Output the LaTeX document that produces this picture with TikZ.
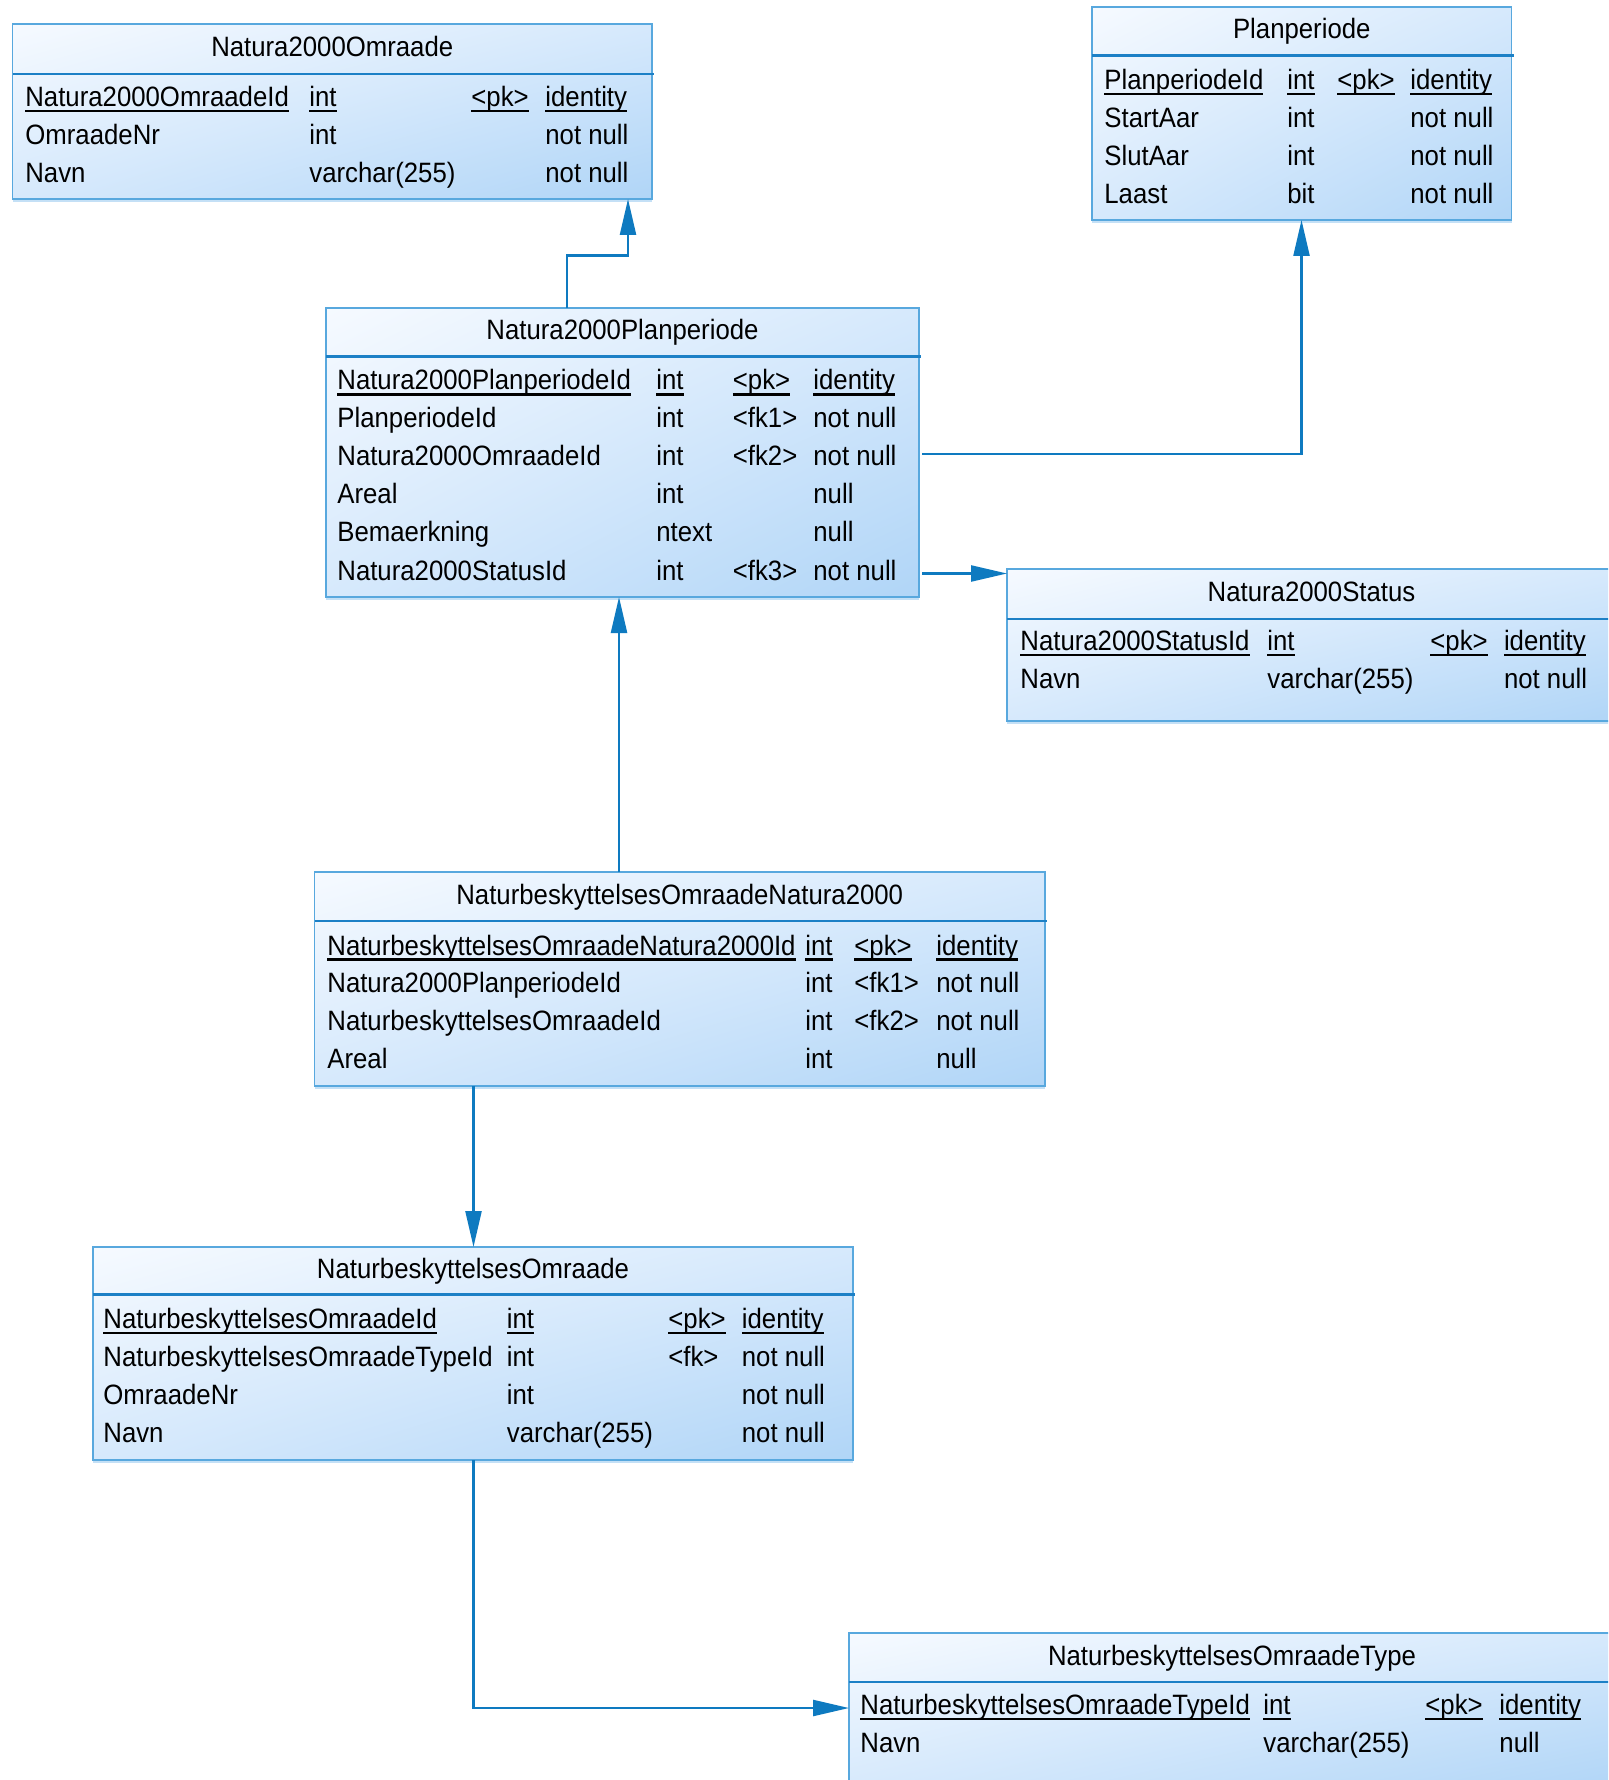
\documentclass[tikz,border=0pt]{standalone}
\usepackage{fontspec}
\setmainfont[FakeStretch=0.92]{Liberation Sans}
\usetikzlibrary{arrows.meta,shadings}
\definecolor{linec}{RGB}{14,122,192}
\definecolor{borderc}{RGB}{88,168,222}
\definecolor{sepc}{RGB}{28,128,198}
\definecolor{fillA}{RGB}{246,250,255}
\definecolor{fillB}{RGB}{214,233,252}
\definecolor{fillC}{RGB}{176,213,247}
\definecolor{shadowc}{RGB}{196,224,246}
\newsavebox\ulbox
\newcommand\ul[1]{\sbox\ulbox{#1}\rlap{\rule[-2.8pt]{\wd\ulbox}{1.2pt}}\usebox\ulbox}
\tikzset{
 tblbox/.style={draw=borderc, line width=0.7pt, shade, upper left=fillA, upper right=fillB, lower left=fillB, lower right=fillC, inner sep=0pt, outer sep=0pt},
 sepline/.style={draw=sepc, line width=1.3pt},
 ttl/.style={anchor=base, inner sep=0pt, font=\fontsize{14}{17}\selectfont},
 cellt/.style={anchor=base west, inner sep=0pt, font=\fontsize{14}{17}\selectfont},
 fk/.style={draw=linec, line width=1.15pt, -{Triangle[length=18pt,width=8pt]}},
}
\newcommand\tbl[7]{%
 \fill[shadowc] (#2,#5) rectangle (#4,#5+3);
 \node[tblbox, minimum width={(#4-#2)*0.5pt}, minimum height={(#5-#3)*0.5pt}] (#1) at ({(#2+#4)/2},{(#3+#5)/2}) {};
 \draw[sepline] (#2,#6) -- (#4+2,#6);
 \node[ttl] (#1t) at ({(#2+#4)/2},{(#3+#6)/2+7.5}) {#7};
}
\newcommand\cols[4]{\def\ca{#1}\def\cb{#2}\def\cc{#3}\def\cd{#4}}
\newcommand\cel[4]{\if\relax\detokenize{#4}\relax\else\node[cellt] (#1) at (#2,#3) {#4};\fi}
\newcommand\rw[6]{%
 \cel{#1a}{\ca}{#2+10}{#3}\cel{#1b}{\cb}{#2+10}{#4}\cel{#1c}{\cc}{#2+10}{#5}\cel{#1d}{\cd}{#2+10}{#6}}
\newcommand\rwu[6]{%
 \node[cellt] (#1a) at (\ca,#2+10) {\ul{#3}};
 \node[cellt] (#1b) at (\cb,#2+10) {\ul{#4}};
 \node[cellt] (#1c) at (\cc,#2+10) {\ul{#5}};
 \node[cellt] (#1d) at (\cd,#2+10) {\ul{#6}};}
\begin{document}
\begin{tikzpicture}[x=0.5pt,y=-0.5pt]
\useasboundingbox (0,0) rectangle (1608,1780);
\fill[white] (0,0) rectangle (1608,1780);
\clip (0,0) rectangle (1608,1780);

% Natura2000Omraade
\tbl{b1}{12.5}{24}{652}{199}{74}{Natura2000Omraade}
\cols{25}{309}{471}{545}
\rwu{b1r1}{96.5}{Natura2000OmraadeId}{int}{<pk>}{identity}
\rw{b1r2}{134.4}{OmraadeNr}{int}{}{not null}
\rw{b1r3}{172.3}{Navn}{varchar(255)}{}{not null}

% Planperiode
\tbl{b2}{1092}{7}{1511.5}{220}{55.6}{Planperiode}
\cols{1104}{1287}{1337}{1410}
\rwu{b2r1}{79.5}{PlanperiodeId}{int}{<pk>}{identity}
\rw{b2r2}{117.4}{StartAar}{int}{}{not null}
\rw{b2r3}{155.3}{SlutAar}{int}{}{not null}
\rw{b2r4}{193.2}{Laast}{bit}{}{not null}

% Natura2000Planperiode
\tbl{b3}{326}{308}{919}{597}{356.6}{Natura2000Planperiode}
\cols{337}{656}{732.5}{813}
\rwu{b3r1}{380}{Natura2000PlanperiodeId}{int}{<pk>}{identity}
\rw{b3r2}{418}{PlanperiodeId}{int}{<fk1>}{not null}
\rw{b3r3}{456}{Natura2000OmraadeId}{int}{<fk2>}{not null}
\rw{b3r4}{494}{Areal}{int}{}{null}
\rw{b3r5}{532}{Bemaerkning}{ntext}{}{null}
\rw{b3r6}{570}{Natura2000StatusId}{int}{<fk3>}{not null}

% Natura2000Status
\tbl{b4}{1007}{569}{1616}{721}{619}{Natura2000Status}
\cols{1020}{1267}{1430}{1503.6}
\rwu{b4r1}{640.5}{Natura2000StatusId}{int}{<pk>}{identity}
\rw{b4r2}{678.4}{Navn}{varchar(255)}{}{not null}

% NaturbeskyttelsesOmraadeNatura2000
\tbl{b5}{314.5}{872}{1045}{1086}{921}{NaturbeskyttelsesOmraadeNatura2000}
\cols{327}{805}{854}{936}
\rwu{b5r1}{945}{NaturbeskyttelsesOmraadeNatura2000Id}{int}{<pk>}{identity}
\rw{b5r2}{982.5}{Natura2000PlanperiodeId}{int}{<fk1>}{not null}
\rw{b5r3}{1020.5}{NaturbeskyttelsesOmraadeId}{int}{<fk2>}{not null}
\rw{b5r4}{1058}{Areal}{int}{}{null}

% NaturbeskyttelsesOmraade
\tbl{b6}{93}{1247}{853}{1460}{1294.6}{NaturbeskyttelsesOmraade}
\cols{103}{506.5}{668}{741.5}
\rwu{b6r1}{1318.5}{NaturbeskyttelsesOmraadeId}{int}{<pk>}{identity}
\rw{b6r2}{1356.4}{NaturbeskyttelsesOmraadeTypeId}{int}{<fk>}{not null}
\rw{b6r3}{1394.3}{OmraadeNr}{int}{}{not null}
\rw{b6r4}{1432.2}{Navn}{varchar(255)}{}{not null}

% NaturbeskyttelsesOmraadeType
\tbl{b7}{849}{1633}{1615}{1790}{1682}{NaturbeskyttelsesOmraadeType}
\cols{860}{1263}{1425}{1499}
\rwu{b7r1}{1704.5}{NaturbeskyttelsesOmraadeTypeId}{int}{<pk>}{identity}
\rw{b7r2}{1742.4}{Navn}{varchar(255)}{}{null}

% connectors
\coordinate (k1) at (566.7,255.5);
\coordinate (k1b) at (628,255.5);
\draw[fk] (b3.north -| k1) -- (k1) -- (k1b) -- (k1b |- b1.south);

\coordinate (k2) at (1301.5,454);
\draw[fk, shorten <=1.5pt] (b3.east |- k2) -- (k2) -- (k2 |- b2.south);

\coordinate (k3) at (950,573.5);
\draw[fk, shorten <=1.5pt] (b3.east |- k3) -- (b4.west |- k3);

\coordinate (k4) at (619,700);
\draw[fk] (b5.north -| k4) -- (b3.south -| k4);

\coordinate (k5) at (473.5,1150);
\draw[fk] (b5.south -| k5) -- (b6.north -| k5);

\coordinate (k6) at (473.5,1708);
\draw[fk] (b6.south -| k6) -- (k6) -- (k6 -| b7.west);
\end{tikzpicture}
\end{document}
